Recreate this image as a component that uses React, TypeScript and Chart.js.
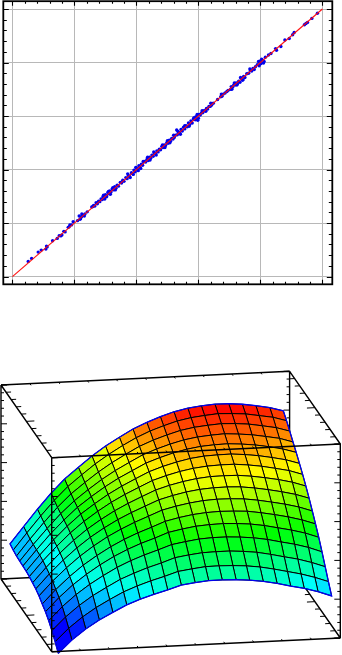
import React, { useEffect, useRef } from "react";
import { Chart, registerables } from "chart.js";

Chart.register(...registerables);

// ---------- top panel data ----------
const majorTicks = [0, 1, 2, 3, 4, 5];
const minorTicks = [0, 0.2, 0.4, 0.6, 0.8, 1, 1.2, 1.4, 1.6, 1.8, 2, 2.2, 2.4, 2.6, 2.8, 3, 3.2, 3.4, 3.6, 3.8, 4, 4.2, 4.4, 4.6, 4.8, 5];
const lineX = [0, 5];
const lineY = [0, 5];
const scatterX = [
  0.255, 0.31, 0.416, 0.465, 0.54, 0.55, 0.56, 0.648, 0.723, 0.755, 0.78, 0.798, 0.83, 0.85, 0.9, 0.916, 0.927, 0.954, 0.98, 1.05, 1.077, 1.088, 1.115, 1.13, 1.17, 1.207,
  1.28, 1.3, 1.31, 1.33, 1.35, 1.37, 1.39, 1.41, 1.43, 1.45, 1.46, 1.48, 1.5, 1.52, 1.54, 1.56, 1.57, 1.59, 1.61, 1.63, 1.65, 1.67, 1.69, 1.71, 1.74, 1.76, 1.78, 1.8, 1.83, 1.85, 1.87, 1.89, 1.92, 1.94, 1.96, 1.98, 2.0, 2.02, 2.04, 2.06, 2.08, 2.1, 2.13, 2.15,
  2.17, 2.19, 2.21, 2.23, 2.25, 2.27, 2.29, 2.31, 2.33, 2.35, 2.37, 2.39, 2.41, 2.43, 2.45, 2.47, 2.49, 2.51, 2.53, 2.55, 2.57, 2.59, 2.61, 2.63, 2.65, 2.66, 2.68, 2.7, 2.72, 2.74, 2.76, 2.78, 2.8, 2.82, 2.84, 2.86, 2.88, 2.9, 2.92, 2.94, 2.96, 2.97, 2.99,
  3.01, 3.03, 3.05, 3.07, 3.09, 3.11, 3.13, 3.15, 3.17, 3.19, 3.21, 3.24, 3.31, 3.36, 3.38, 3.4, 3.43, 3.46, 3.48, 3.52, 3.53, 3.55, 3.57, 3.59, 3.61, 3.63, 3.65, 3.67, 3.69, 3.71, 3.73, 3.75, 3.78, 3.81, 3.84, 3.86, 3.88, 3.9, 3.92, 3.95, 3.98, 4.0, 4.01, 4.03, 4.06, 4.08, 4.13, 4.17,
  4.245, 4.26, 4.33, 4.395, 4.465, 4.52, 4.545, 4.71, 4.735, 4.76, 4.83, 4.92,
  1.12, 1.16, 1.1, 1.47, 1.49, 1.52, 1.55, 1.58, 1.62, 1.66, 1.86, 1.9, 1.95, 1.99, 2.03, 2.07, 2.11, 2.18, 2.22, 2.28, 2.32, 2.42, 2.46, 2.5, 2.54, 2.6, 2.67, 2.71, 2.78, 2.85, 2.93, 2.95, 2.98, 3.0, 3.06, 3.12, 3.2, 3.37, 3.54, 3.58, 3.62, 3.68, 3.72, 3.83, 3.97, 3.99, 4.02, 4.05,
];
const scatterY = [
  0.284, 0.34, 0.458, 0.495, 0.514, 0.57, 0.555, 0.669, 0.714, 0.765, 0.76, 0.776, 0.845, 0.835, 0.92, 0.93, 0.966, 0.966, 1.026, 1.045, 1.133, 1.07, 1.12, 1.15, 1.17, 1.21,
  1.3, 1.31, 1.33, 1.32, 1.38, 1.36, 1.41, 1.4, 1.45, 1.44, 1.49, 1.47, 1.53, 1.51, 1.57, 1.55, 1.6, 1.58, 1.64, 1.62, 1.68, 1.65, 1.71, 1.69, 1.76, 1.75, 1.8, 1.78, 1.85, 1.83, 1.89, 1.87, 1.94, 1.92, 1.99, 1.96, 2.03, 2.0, 2.07, 2.04, 2.1, 2.08, 2.15, 2.14,
  2.19, 2.17, 2.23, 2.21, 2.27, 2.25, 2.3, 2.3, 2.35, 2.33, 2.38, 2.37, 2.43, 2.41, 2.46, 2.45, 2.5, 2.49, 2.55, 2.53, 2.58, 2.57, 2.6, 2.64, 2.74, 2.65, 2.7, 2.68, 2.75, 2.72, 2.79, 2.76, 2.82, 2.8, 2.87, 2.84, 2.91, 2.87, 2.95, 2.94, 2.99, 2.94, 2.92,
  3.03, 3.02, 3.06, 3.06, 3.1, 3.1, 3.14, 3.13, 3.18, 3.18, 3.2, 3.24, 3.31, 3.36, 3.37, 3.41, 3.43, 3.46, 3.48, 3.5, 3.55, 3.54, 3.58, 3.58, 3.62, 3.6, 3.65, 3.63, 3.7, 3.67, 3.74, 3.72, 3.79, 3.8, 3.85, 3.84, 3.89, 3.87, 3.92, 3.96, 3.94, 4.03, 3.98, 4.05, 4.02, 4.1, 4.14, 4.17,
  4.26, 4.23, 4.3, 4.42, 4.45, 4.52, 4.56, 4.706, 4.73, 4.75, 4.825, 4.92,
  1.17, 1.13, 1.08, 1.52, 1.45, 1.49, 1.59, 1.54, 1.66, 1.62, 1.92, 1.85, 1.91, 2.04, 1.98, 2.02, 2.15, 2.23, 2.18, 2.33, 2.27, 2.46, 2.41, 2.54, 2.5, 2.64, 2.71, 2.66, 2.82, 2.81, 2.97, 2.93, 3.03, 2.96, 3.1, 3.09, 3.24, 3.41, 3.5, 3.62, 3.58, 3.72, 3.68, 3.88, 4.02, 3.97, 4.06, 3.99,
];

// ---------- bottom panel data ----------
const surfaceU = [0.023, 0.07, 0.118, 0.165, 0.212, 0.26, 0.307, 0.354, 0.402, 0.449, 0.497, 0.544, 0.591, 0.639, 0.686, 0.733, 0.781, 0.828, 0.875, 0.923, 0.97];
const surfaceV = [0, 0.0635, 0.127, 0.19, 0.254, 0.318, 0.381, 0.445, 0.508, 0.572, 0.635, 0.699, 0.762, 0.826, 0.889, 0.953];
const row00 = [-10, 55, 109, 152, 188, 223, 249, 271, 290, 312, 321, 328, 328, 326, 320, 311, 297, 280, 265, 244, 219];
const row01 = [26, 92, 147, 192, 230, 266, 293, 316, 336, 358, 368, 376, 377, 375, 370, 361, 347, 331, 315, 294, 269];
const row02 = [59, 126, 183, 230, 269, 307, 335, 360, 381, 405, 416, 424, 426, 426, 421, 413, 399, 383, 368, 347, 322];
const row03 = [87, 156, 215, 264, 306, 345, 376, 402, 425, 449, 461, 471, 475, 475, 471, 464, 452, 436, 421, 401, 375];
const row04 = [109, 179, 241, 292, 337, 377, 410, 438, 462, 488, 502, 513, 518, 520, 517, 511, 500, 485, 470, 451, 426];
const row05 = [125, 196, 260, 315, 361, 403, 438, 468, 494, 521, 537, 549, 556, 559, 557, 553, 542, 529, 514, 495, 471];
const row06 = [143, 216, 281, 338, 387, 431, 467, 499, 527, 555, 572, 585, 594, 598, 597, 593, 583, 570, 556, 538, 514];
const row07 = [155, 229, 297, 356, 408, 453, 492, 525, 555, 584, 603, 618, 628, 633, 634, 631, 622, 610, 596, 579, 556];
const row08 = [163, 239, 310, 372, 426, 473, 514, 549, 581, 611, 632, 648, 660, 667, 668, 667, 659, 648, 635, 618, 595];
const row09 = [171, 249, 321, 386, 442, 491, 534, 571, 604, 636, 658, 676, 689, 697, 700, 700, 693, 683, 669, 654, 631];
const row10 = [176, 255, 330, 397, 456, 506, 551, 590, 625, 658, 682, 701, 716, 725, 728, 729, 723, 714, 701, 686, 664];
const row11 = [178, 258, 336, 405, 467, 519, 566, 607, 643, 678, 703, 724, 740, 751, 756, 758, 753, 745, 733, 718, 697];
const row12 = [180, 262, 341, 414, 477, 531, 580, 623, 661, 697, 724, 746, 764, 776, 782, 786, 781, 774, 762, 749, 727];
const row13 = [182, 266, 348, 423, 489, 544, 595, 640, 680, 717, 746, 769, 789, 802, 809, 814, 811, 805, 793, 780, 759];
const row14 = [189, 274, 358, 435, 503, 560, 613, 659, 701, 738, 769, 793, 814, 828, 836, 842, 839, 834, 822, 810, 789];
const row15 = [197, 283, 369, 448, 518, 575, 630, 678, 720, 759, 790, 816, 838, 853, 862, 867, 866, 860, 849, 836, 816];
const surfaceRows = [row00, row01, row02, row03, row04, row05, row06, row07, row08, row09, row10, row11, row12, row13, row14, row15];
const boxUTicks = [0, 0.1, 0.2, 0.3, 0.4, 0.5, 0.6, 0.7, 0.8, 0.9, 1];
const boxVTicks = [0, 0.1, 0.2, 0.3, 0.4, 0.5, 0.6, 0.7, 0.8, 0.9, 1];
const boxZTicks = [0, 0.04, 0.08, 0.12, 0.16, 0.2, 0.24, 0.28, 0.32, 0.36, 0.4, 0.44, 0.48, 0.52, 0.56, 0.6, 0.64, 0.68, 0.72, 0.76, 0.8, 0.84, 0.88, 0.92, 0.96, 1];

const colorMin = 80;
const colorMax = 860;

// orthographic view of the box
function project(u: number, v: number, z: number) {
  return { x: 51.7 + 288.6 * u - 50.7 * v, y: 651.7 - 13.7 * u - 72.7 * v - 194 * z };
}

function rainbow(t: number) {
  const c = Math.max(0, Math.min(1, t)) * 4;
  const seg = Math.min(3, Math.floor(c));
  const f = c - seg;
  const stops = [[0, 0, 255], [0, 255, 255], [0, 255, 0], [255, 255, 0], [255, 0, 0]];
  const a = stops[seg];
  const b = stops[seg + 1];
  return `rgb(${Math.round(a[0] + (b[0] - a[0]) * f)},${Math.round(a[1] + (b[1] - a[1]) * f)},${Math.round(a[2] + (b[2] - a[2]) * f)})`;
}

const node = (i: number, j: number) => project(surfaceU[i], surfaceV[j], surfaceRows[j][i] / 1000);

function surfaceDatasets() {
  const out: any[] = [];
  for (let j = 0; j < surfaceV.length - 1; j++) {
    for (let i = 0; i < surfaceU.length - 1; i++) {
      const mean = (surfaceRows[j][i] + surfaceRows[j][i + 1] + surfaceRows[j + 1][i] + surfaceRows[j + 1][i + 1]) / 4;
      out.push({
        data: [node(i, j), node(i + 1, j), node(i + 1, j + 1), node(i, j + 1), node(i, j)],
        showLine: true,
        fill: "shape",
        backgroundColor: rainbow((mean - colorMin) / (colorMax - colorMin)),
        borderColor: "#000",
        borderWidth: 1,
        pointRadius: 0,
        order: 10,
        clip: false,
      });
    }
  }
  const outline: any[] = [];
  for (let i = 0; i < surfaceU.length; i++) outline.push(node(i, 0));
  for (let j = 1; j < surfaceV.length; j++) outline.push(node(surfaceU.length - 1, j));
  for (let i = surfaceU.length - 2; i >= 0; i--) outline.push(node(i, surfaceV.length - 1));
  for (let j = surfaceV.length - 2; j >= 0; j--) outline.push(node(0, j));
  out.push({ data: outline, showLine: true, fill: false, borderColor: "#0000f0", borderWidth: 1.3, pointRadius: 0, order: 5, clip: false });
  return out;
}

const gap = { x: null, y: null };
function segs(list: [{ x: number; y: number }, { x: number; y: number }][]) {
  const out: any[] = [];
  list.forEach(([a, b]) => out.push(a, b, gap));
  return out;
}
function lineSet(data: any[], order: number, width: number) {
  return { data, showLine: true, spanGaps: false, fill: false, borderColor: "#000", borderWidth: width, pointRadius: 0, order, clip: false };
}

function tickSeg(p: { x: number; y: number }, dx: number, dy: number, len: number): [any, any] {
  return [p, { x: p.x + dx * len, y: p.y + dy * len }];
}

function boxDatasets() {
  const P = project;
  const back = [
    [P(0, 1, 1), P(1, 1, 1)],
    [P(0, 0, 1), P(0, 1, 1)],
    [P(1, 0, 1), P(1, 1, 1)],
    [P(0, 1, 0), P(0, 1, 1)],
    [P(1, 1, 0), P(1, 1, 1)],
    [P(0, 1, 0), P(1, 1, 0)],
    [P(0, 0, 0), P(0, 1, 0)],
    [P(1, 0, 0), P(1, 1, 0)],
    [P(1, 0, 0), P(1, 0, 1)],
  ] as any;
  const front = [
    [P(0, 0, 1), P(1, 0, 1)],
    [P(0, 0, 0), P(0, 0, 1)],
    [P(0, 0, 0), P(1, 0, 0)],
  ] as any;
  const backTicks: any[] = [];
  const frontTicks: any[] = [];
  boxZTicks.forEach((z, k) => {
    const len = k % 5 === 0 ? 6 : 3;
    backTicks.push(tickSeg(P(0, 1, z), 1, 0, len));
    backTicks.push(tickSeg(P(1, 1, z), -1, 0, len));
    backTicks.push(tickSeg(P(1, 0, z), -1, 0, len));
    frontTicks.push(tickSeg(P(0, 0, z), 1, 0, len));
  });
  boxVTicks.forEach((v, k) => {
    const len = k % 5 === 0 ? 8 : 5;
    backTicks.push(tickSeg(P(0, v, 1), 1, -0.05, len));
    backTicks.push(tickSeg(P(0, v, 0), 1, -0.05, len));
    backTicks.push(tickSeg(P(1, v, 1), -1, 0.05, len));
    backTicks.push(tickSeg(P(1, v, 0), -1, 0.05, len));
  });
  boxUTicks.forEach((u) => {
    backTicks.push(tickSeg(P(u, 1, 1), 0.57, 0.82, 2));
    backTicks.push(tickSeg(P(u, 1, 0), 0.57, 0.82, 2));
    frontTicks.push(tickSeg(P(u, 0, 1), -0.57, -0.82, 2));
    frontTicks.push(tickSeg(P(u, 0, 0), -0.57, -0.82, 2));
  });
  return [
    lineSet(segs(front), 1, 1.4),
    lineSet(segs(frontTicks), 2, 1),
    lineSet(segs(back), 20, 1.4),
    lineSet(segs(backTicks), 21, 1),
  ];
}

const framePlugin = {
  id: "frame",
  afterDatasetsDraw(chart: any) {
    const { ctx, chartArea: a, scales } = chart;
    ctx.save();
    ctx.strokeStyle = "#000";
    ctx.lineWidth = 1.8;
    ctx.strokeRect(a.left, a.top, a.right - a.left, a.bottom - a.top);
    ctx.lineWidth = 1.1;
    ctx.beginPath();
    minorTicks.forEach((v) => {
      const isMajor = majorTicks.includes(v);
      const lx = isMajor ? 4.5 : 2.5;
      const ly = isMajor ? 5.5 : 3.5;
      const x = Math.round(scales.x.getPixelForValue(v)) + 0.5;
      const y = Math.round(scales.y.getPixelForValue(v)) + 0.5;
      ctx.moveTo(x, a.top);
      ctx.lineTo(x, a.top + lx);
      ctx.moveTo(x, a.bottom);
      ctx.lineTo(x, a.bottom - lx);
      ctx.moveTo(a.left, y);
      ctx.lineTo(a.left + ly, y);
      ctx.moveTo(a.right, y);
      ctx.lineTo(a.right - ly, y);
    });
    ctx.stroke();
    ctx.restore();
  },
};

export default function App() {
  const topRef = useRef<HTMLCanvasElement>(null);
  const bottomRef = useRef<HTMLCanvasElement>(null);

  useEffect(() => {
    document.body.style.margin = "0";
    document.body.style.background = "#fff";
    const gridAxis = (min: number, max: number) => ({
      type: "linear" as const,
      min,
      max,
      bounds: "data" as const,
      afterBuildTicks: (scale: any) => {
        scale.ticks = majorTicks.map((value) => ({ value }));
      },
      ticks: { display: false, includeBounds: false },
      grid: { color: "#b8b8b8", lineWidth: 1, drawTicks: false },
      border: { display: false },
    });
    const top = new Chart(topRef.current!, {
      type: "scatter",
      data: {
        datasets: [
          {
            data: lineX.map((x, i) => ({ x, y: lineY[i] })),
            showLine: true,
            borderColor: "rgba(255,10,10,0.95)",
            borderWidth: 1.2,
            pointRadius: 0,
            order: 1,
          },
          {
            data: scatterX.map((x, i) => ({ x, y: scatterY[i] })),
            showLine: false,
            backgroundColor: "#0000ee",
            borderColor: "#0000ee",
            borderWidth: 0,
            pointRadius: 1.7,
            order: 2,
          },
        ],
      },
      options: {
        animation: false,
        responsive: false,
        layout: { autoPadding: false, padding: { left: 3.3, right: 9.7, top: 1.2, bottom: 15.7 } },
        plugins: { legend: { display: false }, tooltip: { enabled: false } },
        scales: { x: gridAxis(-0.1468, 5.1597), y: gridAxis(-0.144, 5.146) },
      },
      plugins: [framePlugin],
    } as any);

    const bottom = new Chart(bottomRef.current!, {
      type: "scatter",
      data: { datasets: [...surfaceDatasets(), ...boxDatasets()] },
      options: {
        animation: false,
        responsive: false,
        layout: { autoPadding: false, padding: 0 },
        plugins: { legend: { display: false }, tooltip: { enabled: false } },
        scales: {
          x: { type: "linear", min: 0, max: 342, display: false },
          y: { type: "linear", min: 300, max: 655, reverse: true, display: false },
        },
      },
    } as any);
    return () => {
      top.destroy();
      bottom.destroy();
    };
  }, []);

  return (
    <div style={{ position: "relative", width: 342, height: 655, overflow: "hidden" }}>
      <canvas ref={topRef} width={342} height={300} style={{ position: "absolute", left: 0, top: 0 }} />
      <canvas ref={bottomRef} width={342} height={355} style={{ position: "absolute", left: 0, top: 300 }} />
    </div>
  );
}
